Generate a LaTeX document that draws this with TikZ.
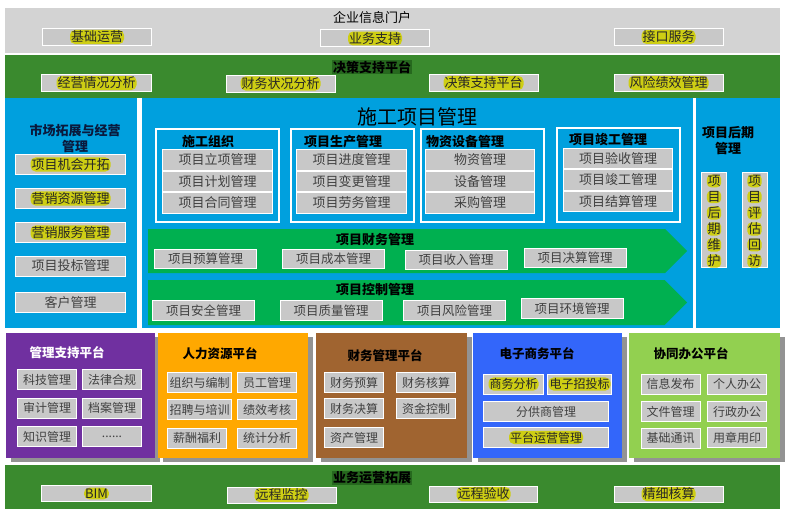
\documentclass[tikz,border=0pt]{standalone}
\usepackage{fontspec}
\setmainfont{Noto Sans CJK SC}
\usetikzlibrary{positioning,shapes.symbols,shadows}
\definecolor{portalgray}{RGB}{211,211,211}
\definecolor{decgreen}{RGB}{58,138,46}
\definecolor{titlegreen}{RGB}{38,104,30}
\definecolor{projblue}{RGB}{0,160,222}
\definecolor{flowgreen}{RGB}{0,176,80}
\definecolor{boxgray}{RGB}{200,200,200}
\definecolor{hlyellow}{RGB}{206,206,20}
\definecolor{txtgray}{RGB}{64,64,64}
\definecolor{navytxt}{RGB}{10,25,60}
\definecolor{platpurple}{RGB}{112,48,160}
\definecolor{platorange}{RGB}{255,168,0}
\definecolor{platbrown}{RGB}{160,100,48}
\definecolor{platblue}{RGB}{51,102,250}
\definecolor{platgreen}{RGB}{146,208,80}

\begin{document}
\begin{tikzpicture}[x=1pt, y=-1pt,
  band/.style={anchor=north west, inner sep=0pt, minimum width=775pt, minimum height=44pt},
  panel/.style={anchor=north west, inner sep=0pt, fill=projblue, minimum height=230pt},
  cell/.style={fill=boxgray, draw=white, line width=1pt, inner sep=0pt, text=txtgray,
               font=\fontsize{13}{14}\selectfont},
  hl/.style={fill=hlyellow, rounded corners=5pt, inner sep=1pt, text=black!85,
             font=\fontsize{13}{14}\selectfont},
  phl/.style={hl, font=\fontsize{12}{13}\selectfont},
  grp/.style={draw=white, line width=1.5pt, anchor=north west, inner sep=0pt,
              minimum width=123pt, minimum height=93pt},
  head/.style={font=\bfseries\fontsize{13}{16}\selectfont, align=center, inner sep=1pt},
  flow/.style={signal, signal to=east, signal pointer angle=90, fill=flowgreen,
               anchor=west, inner sep=0pt, minimum width=539pt},
  fcell/.style={cell, minimum width=102pt, minimum height=19pt, font=\fontsize{12.5}{14}\selectfont},
  plat/.style={anchor=north west, inner sep=0pt, minimum width=149pt, minimum height=125pt,
               drop shadow={shadow xshift=5pt, shadow yshift=-4pt, fill=gray!85, opacity=1}},
  pcell/.style={cell, minimum width=59pt, minimum height=20pt, font=\fontsize{12}{13}\selectfont}]
  \useasboundingbox (0,0) rectangle (791,519);

  % portal and decision bands
  \node[band, fill=portalgray, minimum height=45pt] (portal) at (5,8) {};
  \node[font=\fontsize{13}{15}\selectfont, inner sep=0pt] (portaltitle) at (372,18) {企业信息门户};
  \node[cell, minimum width=109pt, minimum height=17pt, label={[hl]center:基础运营}] (basic) at (97,37) {};
  \node[cell, minimum width=109pt, minimum height=17pt, label={[hl]center:业务支持}] (bizsup) at (375,38.5) {};
  \node[cell, minimum width=109pt, minimum height=17pt, label={[hl]center:接口服务}] (iface) at (668.5,37) {};

  \node[band, fill=decgreen, minimum height=43pt] (decision) at (5,55) {};
  \node[head, fill=titlegreen] (dectitle) at (372,67) {决策支持平台};
  \node[cell, minimum width=110pt, minimum height=17pt, label={[hl]center:经营情况分析}] (opana) at (96.5,83) {};
  \node[cell, minimum width=109pt, minimum height=17pt, label={[hl]center:财务状况分析}] (finana) at (280.5,83.5) {};
  \node[cell, minimum width=109pt, minimum height=17pt, label={[hl]center:决策支持平台}] (decsup) at (483.5,83) {};
  \node[cell, minimum width=109pt, minimum height=17pt, label={[hl]center:风险绩效管理}] (riskperf) at (668.5,83) {};

  % three blue panels
  \node[panel, minimum width=132pt] (market) at (5,98) {};
  \node[panel, minimum width=551pt] (construct) at (142,98) {};
  \node[panel, minimum width=84pt] (later) at (696,98) {};

  % market column
  \node[head, text=navytxt, font=\bfseries\fontsize{13}{16}\selectfont] (markettitle) at (75,138) {市场拓展与经营\\管理};
  \node[cell, minimum width=110pt, minimum height=20pt, label={[hl]center:项目机会开拓}] (chance) at (70.5,164.5) {};
  \node[cell, minimum width=110pt, minimum height=20pt, label={[hl]center:营销资源管理}] (mktres) at (70.5,198.5) {};
  \node[cell, minimum width=110pt, minimum height=20pt, label={[hl]center:营销服务管理}] (mktsrv) at (70.5,232.5) {};
  \node[cell, minimum width=110pt, minimum height=20pt] (bid) at (70.5,266) {项目投标管理};
  \node[cell, minimum width=110pt, minimum height=20pt] (client) at (70.5,302.5) {客户管理};

  % construction project management
  \node[font=\fontsize{20}{22}\selectfont, inner sep=0pt] (ctitle) at (417,117) {施工项目管理};
  \node[grp] (org) at (155,128) {};
  \node[grp] (prod) at (290,128) {};
  \node[grp] (matl) at (420,128) {};
  \node[grp, minimum height=94pt] (done) at (556,127) {};
  \node[head] (orgtitle) at (208,142) {施工组织};
  \node[head] (prodtitle) at (343,142) {项目生产管理};
  \node[head] (matltitle) at (465,142) {物资设备管理};
  \node[head] (donetitle) at (608,140) {项目竣工管理};

  \node[cell, minimum width=110pt, minimum height=20.5pt] (org1) at (217.5,160) {项目立项管理};
  \node[cell, minimum width=110pt, minimum height=20.5pt, below=0pt of org1] (org2) {项目计划管理};
  \node[cell, minimum width=110pt, minimum height=20.5pt, below=0pt of org2] (org3) {项目合同管理};
  \node[cell, minimum width=110pt, minimum height=20.5pt] (prod1) at (351.5,160) {项目进度管理};
  \node[cell, minimum width=110pt, minimum height=20.5pt, below=0pt of prod1] (prod2) {项目变更管理};
  \node[cell, minimum width=110pt, minimum height=20.5pt, below=0pt of prod2] (prod3) {项目劳务管理};
  \node[cell, minimum width=109pt, minimum height=20.5pt] (matl1) at (480,160) {物资管理};
  \node[cell, minimum width=109pt, minimum height=20.5pt, below=0pt of matl1] (matl2) {设备管理};
  \node[cell, minimum width=109pt, minimum height=20.5pt, below=0pt of matl2] (matl3) {采购管理};
  \node[cell, minimum width=109pt, minimum height=20.5pt] (done1) at (618,158.5) {项目验收管理};
  \node[cell, minimum width=109pt, minimum height=20.5pt, below=0pt of done1] (done2) {项目竣工管理};
  \node[cell, minimum width=109pt, minimum height=20.5pt, below=0pt of done2] (done3) {项目结算管理};

  % finance and control flows
  \node[flow, minimum height=44pt] (finance) at (148,251) {};
  \node[head] (fintitle) at (375,240) {项目财务管理};
  \node[fcell] (budget) at (205.5,259) {项目预算管理};
  \node[fcell] (cost) at (333.5,259) {项目成本管理};
  \node[fcell] (income) at (456,260) {项目收入管理};
  \node[fcell] (settle) at (575,258) {项目决算管理};

  \node[flow, minimum height=45pt] (control) at (148,302.5) {};
  \node[head] (ctrltitle) at (375,290) {项目控制管理};
  \node[fcell, minimum height=20pt] (safety) at (203.5,310.5) {项目安全管理};
  \node[fcell, minimum height=20pt] (quality) at (331,310.5) {项目质量管理};
  \node[fcell, minimum height=20pt] (risk) at (454.5,310.5) {项目风险管理};
  \node[fcell, minimum height=20pt] (envir) at (572,308.5) {项目环境管理};

  % later stage column
  \node[head] (latertitle) at (728,140.5) {项目后期\\管理};
  \node[cell, minimum width=25pt, minimum height=95pt] (maint) at (714,220) {};
  \node[cell, minimum width=25pt, minimum height=95pt] (review) at (754.5,220) {};
  \foreach \c [count=\i] in {项,目,后,期,维,护}
    \node[hl, inner sep=0.6pt, rounded corners=4pt] (maint\i) at (714,165+16*\i) {\c};
  \foreach \c [count=\i] in {项,目,评,估,回,访}
    \node[hl, inner sep=0.6pt, rounded corners=4pt] (review\i) at (754.5,165+16*\i) {\c};

  % platforms
  \node[plat, fill=platpurple] (support) at (6,333) {};
  \node[plat, fill=platorange, minimum width=150pt] (hr) at (158,333) {};
  \node[plat, fill=platbrown, minimum width=151pt] (fin) at (316,333) {};
  \node[plat, fill=platblue] (ecom) at (473,333) {};
  \node[plat, fill=platgreen, minimum width=151pt] (office) at (629,333) {};

  \node[head, text=white, font=\bfseries\fontsize{12.5}{14}\selectfont] (supporttitle) at (67,353) {管理支持平台};
  \node[pcell] (tech) at (47,379.5) {科技管理};
  \node[pcell] (law) at (112,379.5) {法律合规};
  \node[pcell] (audit) at (47,408) {审计管理};
  \node[pcell] (archive) at (112,408) {档案管理};
  \node[pcell] (know) at (47,436.5) {知识管理};
  \node[pcell] (more) at (112,436.5) {......};

  \node[head, font=\bfseries\fontsize{12.5}{14}\selectfont] (hrtitle) at (220,354) {人力资源平台};
  \node[pcell, minimum width=64pt] (orgplan) at (199.5,382.5) {组织与编制};
  \node[pcell] (staff) at (267,382.5) {员工管理};
  \node[pcell, minimum width=64pt] (recruit) at (199.5,409.5) {招聘与培训};
  \node[pcell] (kpi) at (267,409.5) {绩效考核};
  \node[pcell] (salary) at (197,438) {薪酬福利};
  \node[pcell] (stats) at (267,438) {统计分析};

  \node[head, font=\bfseries\fontsize{12.5}{14}\selectfont] (fintitle2) at (385,356) {财务管理平台};
  \node[pcell] (fbudget) at (354,382.5) {财务预算};
  \node[pcell] (faccount) at (426,382.5) {财务核算};
  \node[pcell] (fsettle) at (354,408.5) {财务决算};
  \node[pcell] (fund) at (426,408.5) {资金控制};
  \node[pcell] (asset) at (354,437.5) {资产管理};

  \node[head, font=\bfseries\fontsize{12.5}{14}\selectfont] (ecomtitle) at (537,354) {电子商务平台};
  \node[pcell, minimum width=60pt, label={[phl]center:商务分析}] (bizana) at (513.5,384) {};
  \node[pcell, minimum width=64pt, label={[phl]center:电子招投标}] (ebid) at (579.5,384) {};
  \node[pcell, minimum width=125pt] (supplier) at (546,411.5) {分供商管理};
  \node[pcell, minimum width=125pt, label={[phl]center:平台运营管理}] (platop) at (546,437.5) {};

  \node[head, font=\bfseries\fontsize{12.5}{14}\selectfont] (officetitle) at (691,354) {协同办公平台};
  \node[pcell] (notice) at (670.5,384) {信息发布};
  \node[pcell] (personal) at (737,384) {个人办公};
  \node[pcell] (docs) at (670.5,411.5) {文件管理};
  \node[pcell] (admin) at (737,411.5) {行政办公};
  \node[pcell] (comm) at (670.5,438.5) {基础通讯};
  \node[pcell] (seal) at (737,437.5) {用章用印};

  % business extension band
  \node[band, fill=decgreen] (bizext) at (5,465) {};
  \node[head, fill=titlegreen] (exttitle) at (372,478) {业务运营拓展};
  \node[cell, minimum width=110pt, minimum height=16pt, label={[hl]center:BIM}] (bim) at (96.5,493.5) {};
  \node[cell, minimum width=109pt, minimum height=16pt, label={[hl]center:远程监控}] (rmon) at (281.5,495) {};
  \node[cell, minimum width=108pt, minimum height=16pt, label={[hl]center:远程验收}] (racc) at (483.5,494) {};
  \node[cell, minimum width=109pt, minimum height=16pt, label={[hl]center:精细核算}] (fine) at (668.5,494) {};
\end{tikzpicture}
\end{document}
